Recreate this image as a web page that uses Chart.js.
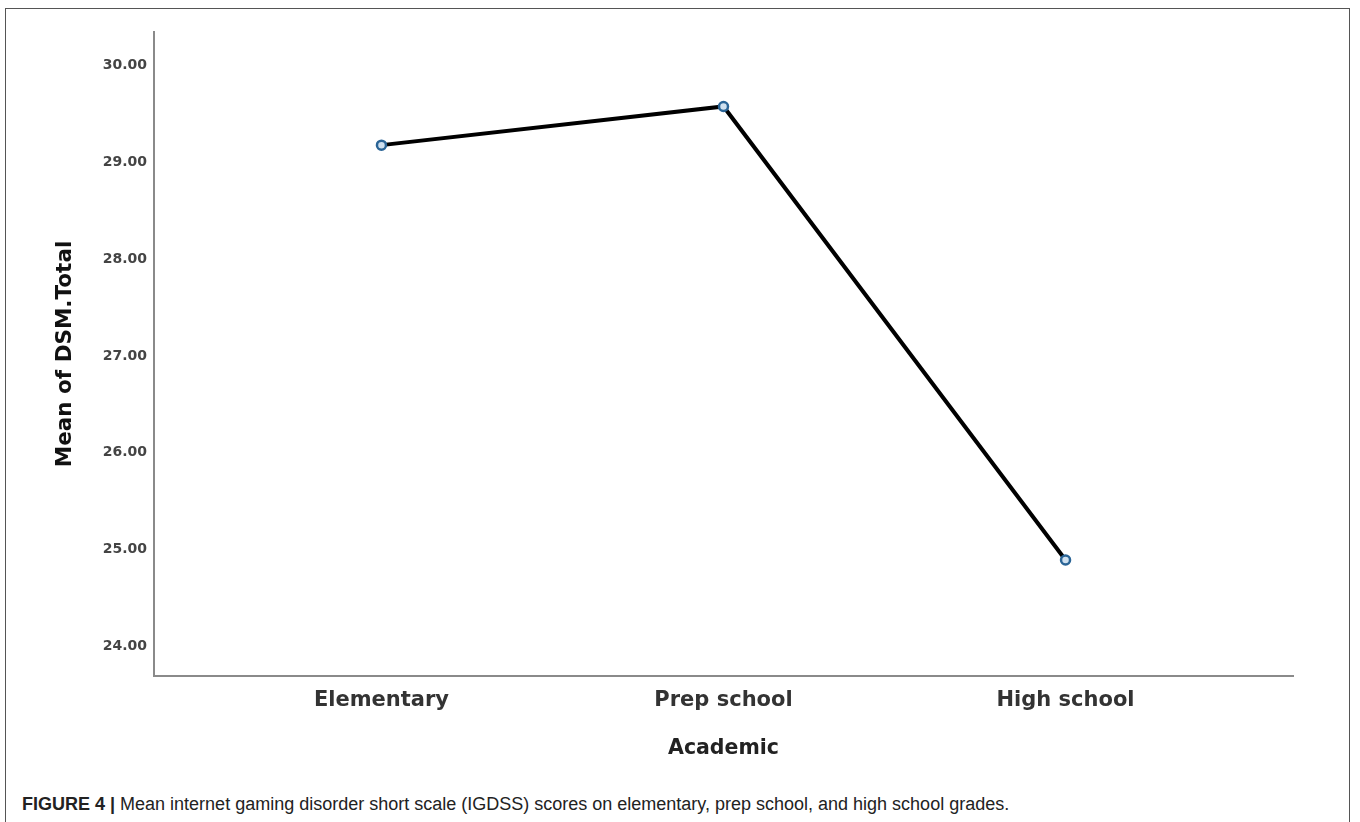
<!DOCTYPE html>
<html>
<head>
<meta charset="utf-8">
<script src="https://cdn.jsdelivr.net/npm/chart.js@4"></script>
<style>
  body { margin: 0; background: #fff; width: 1360px; height: 822px; overflow: hidden; position: relative; }
  #frame { position: absolute; left: 5px; top: 8px; width: 1345px; height: 840px; border: 1.5px solid #555; box-sizing: border-box; }
  #wrap { position: absolute; left: 0; top: 0; width: 1360px; height: 780px; }
  #caption { position: absolute; left: 22px; top: 794px; font-family: "Liberation Sans", Arial, sans-serif; font-size: 18px; color: #222; white-space: nowrap; }
  #caption b { font-weight: bold; }
</style>
</head>
<body>
<div id="frame"></div>
<div id="wrap"><canvas id="chart" width="1360" height="780"></canvas></div>
<div id="caption"><b>FIGURE 4 |</b> Mean internet gaming disorder short scale (IGDSS) scores on elementary, prep school, and high school grades.</div>
<script>
const categories = ['Elementary', 'Prep school', 'High school'];
const meanScores = [29.18, 29.58, 24.89];
const yTicks = [24, 25, 26, 27, 28, 29, 30];

document.addEventListener('DOMContentLoaded', () => {
  const ctx = document.getElementById('chart').getContext('2d');

  new Chart(ctx, {
    type: 'line',
    data: {
      datasets: [{
        label: 'Mean of DSM.Total',
        data: meanScores.map((v, i) => ({ x: i, y: v })),
        borderColor: '#000',
        borderWidth: 4,
        pointRadius: 4.5,
        pointBorderWidth: 2.5,
        pointBorderColor: '#2a6496',
        pointBackgroundColor: '#cfe0ef',
        tension: 0
      }]
    },
    options: {
      responsive: false,
      animation: false,
      layout: { padding: { top: 32, right: 67, left: 0, bottom: 0 } },
      plugins: { legend: { display: false }, tooltip: { enabled: false } },
      scales: {
        x: {
          type: 'linear',
          min: -0.665,
          max: 2.665,
          afterFit: scale => { scale.height = 104; },
          afterBuildTicks: scale => { scale.ticks = categories.map((c, i) => ({ value: i })); },
          grid: { display: false, drawTicks: false },
          border: { color: '#8a8a8a', width: 2 },
          ticks: {
            padding: 12,
            color: '#333',
            font: { family: 'DejaVu Sans', size: 21, weight: 'bold' },
            callback: value => categories[value] ?? ''
          },
          title: {
            display: true,
            text: 'Academic',
            color: '#222',
            font: { family: 'DejaVu Sans', size: 20.5, weight: 'bold' },
            padding: { top: 0, bottom: 19 }
          }
        },
        y: {
          min: 23.69,
          max: 30.35,
          afterFit: scale => { scale.width = 154; },
          afterBuildTicks: scale => { scale.ticks = yTicks.map(v => ({ value: v })); },
          grid: { display: false, drawTicks: false },
          border: { color: '#8a8a8a', width: 2 },
          ticks: {
            padding: 7,
            color: '#444',
            font: { family: 'DejaVu Sans', size: 14, weight: 'bold' },
            callback: value => Number(value).toFixed(2)
          },
          title: {
            display: true,
            text: 'Mean of DSM.Total',
            color: '#111',
            font: { family: 'DejaVu Sans', size: 21.5, weight: 'bold' },
            padding: { top: 53, bottom: 0 }
          }
        }
      }
    }
  });
});
</script>
</body>
</html>
